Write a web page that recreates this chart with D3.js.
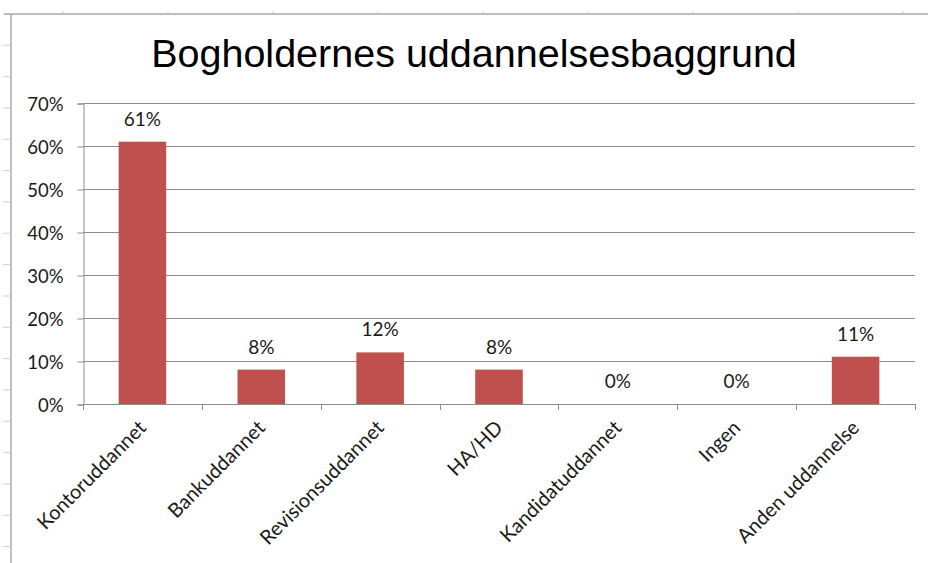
<!DOCTYPE html>
<html>
<head>
<meta charset="utf-8">
<script src="https://cdn.jsdelivr.net/npm/d3@7"></script>
<style>
  html, body { margin: 0; padding: 0; background: #fff; }
  svg { display: block; }
  .lbl { font-family: Lato, "Open Sans", sans-serif; font-size: 18.5px; fill: #1a1a1a; }
  .val { font-size: 19px; }
  .cat { font-size: 20px; }
  .title { font-family: "Liberation Sans", Arial, sans-serif; font-size: 39.5px; fill: #000; }
</style>
</head>
<body>
<div id="chart"></div>
<script>
// chart data
var categories = ["Kontoruddannet", "Bankuddannet", "Revisionsuddannet", "HA/HD", "Kandidatuddannet", "Ingen", "Anden uddannelse"];
var shares = [0.61, 0.08, 0.12, 0.08, 0, 0, 0.11];
var yTicks = [0, 0.1, 0.2, 0.3, 0.4, 0.5, 0.6, 0.7];
var titleText = "Bogholdernes uddannelsesbaggrund";

var width = 928, height = 563;
var plot = { left: 83, right: 915, top: 103, bottom: 404 };

var svg = d3.select("#chart").append("svg")
  .attr("width", width)
  .attr("height", height);

// spreadsheet frame behind the chart (row/column marks)
var frame = svg.append("g");
frame.append("line")
  .attr("x1", 4).attr("x2", width).attr("y1", 14).attr("y2", 14)
  .attr("stroke", "#a9a9a9").attr("stroke-width", 1.5);
frame.append("line")
  .attr("x1", 11).attr("x2", 11).attr("y1", 14).attr("y2", height)
  .attr("stroke", "#a9a9a9").attr("stroke-width", 1.5);
frame.selectAll(".rowmark").data(d3.range(1, 18)).enter().append("line")
  .attr("x1", 3).attr("x2", 10)
  .attr("y1", function(d) { return 14 + d * 31.33; })
  .attr("y2", function(d) { return 14 + d * 31.33; })
  .attr("stroke", "#cfcfcf");
frame.selectAll(".colmark").data(d3.range(0, 9)).enter().append("line")
  .attr("x1", function(d) { return 63 + d * 105; })
  .attr("x2", function(d) { return 63 + d * 105; })
  .attr("y1", 11).attr("y2", 13)
  .attr("stroke", "#d5d5d5");

var x = d3.scaleBand()
  .domain(categories)
  .range([plot.left, plot.right])
  .padding(0);

var y = d3.scaleLinear()
  .domain([0, 0.7])
  .range([plot.bottom, plot.top]);

var pct = d3.format(".0%");
var gridColor = "#8c8c8c";

// title
svg.append("text")
  .attr("class", "title")
  .attr("x", 474)
  .attr("y", 67)
  .attr("text-anchor", "middle")
  .text(titleText);

// horizontal gridlines
svg.append("g").selectAll("line").data(yTicks.slice(1)).enter().append("line")
  .attr("x1", plot.left).attr("x2", plot.right)
  .attr("y1", function(d) { return Math.round(y(d)) + 0.5; })
  .attr("y2", function(d) { return Math.round(y(d)) + 0.5; })
  .attr("stroke", gridColor);

// y axis
var yAxis = svg.append("g")
  .attr("transform", "translate(" + (plot.left + 0.5) + ",0.5)")
  .call(d3.axisLeft(y).tickValues(yTicks).tickFormat(pct).tickSize(6).tickPadding(14));
yAxis.select(".domain").attr("stroke", gridColor);
yAxis.selectAll(".tick line").attr("stroke", gridColor);
yAxis.selectAll(".tick text").attr("class", "lbl").attr("dy", "0.36em");

// bars
var barW = x.bandwidth() * 0.4;
svg.append("g").selectAll("rect").data(shares).enter().append("rect")
  .attr("x", function(d, i) { return x(categories[i]) + (x.bandwidth() - barW) / 2; })
  .attr("y", function(d) { return y(d); })
  .attr("width", barW)
  .attr("height", function(d) { return y(0) - y(d); })
  .attr("fill", "#c0504d");

// value labels
svg.append("g").selectAll("text").data(shares).enter().append("text")
  .attr("class", "lbl val")
  .attr("x", function(d, i) { return x(categories[i]) + x.bandwidth() / 2; })
  .attr("y", function(d) { return y(d) - 16; })
  .attr("text-anchor", "middle")
  .text(function(d) { return pct(d); });

// x axis line + boundary ticks
var xg = svg.append("g");
xg.append("line")
  .attr("x1", plot.left).attr("x2", plot.right)
  .attr("y1", plot.bottom + 0.5).attr("y2", plot.bottom + 0.5)
  .attr("stroke", gridColor);
var bounds = categories.map(function(c) { return x(c); }).concat([plot.right]);
xg.selectAll(".xt").data(bounds).enter().append("line")
  .attr("x1", function(d) { return Math.round(d) + 0.5; })
  .attr("x2", function(d) { return Math.round(d) + 0.5; })
  .attr("y1", plot.bottom).attr("y2", plot.bottom + 6)
  .attr("stroke", gridColor);

// rotated category labels
xg.selectAll(".xl").data(categories).enter().append("text")
  .attr("class", "lbl cat")
  .attr("text-anchor", "end")
  .attr("transform", function(d) {
    return "translate(" + (x(d) + x.bandwidth() / 2 + 5) + "," + (plot.bottom + 25) + ") rotate(-45)";
  })
  .text(function(d) { return d; });
</script>
</body>
</html>
